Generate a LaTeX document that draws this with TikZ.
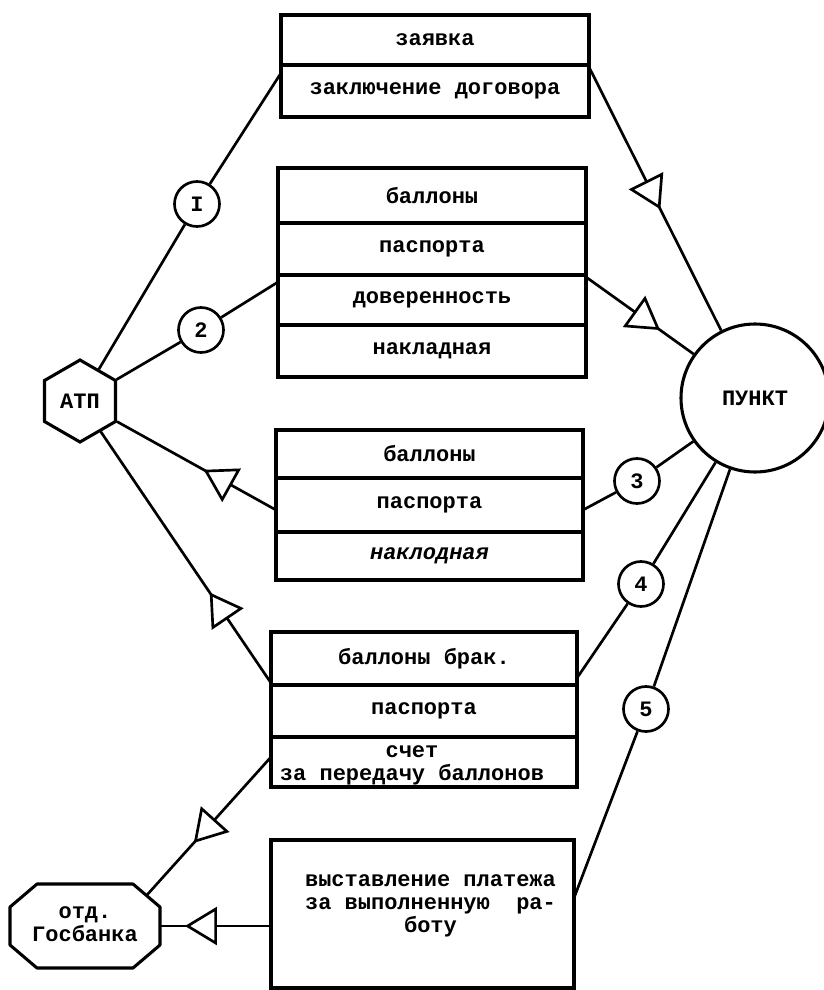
\documentclass[tikz,border=0pt]{standalone}
\usepackage{fontspec}
\setmainfont{Liberation Mono}
\usetikzlibrary{shapes.geometric,arrows.meta,decorations.markings,calc}
\begin{document}
\begin{tikzpicture}[x=0.75pt,y=-0.75pt,
  txt/.style={font=\bfseries\fontsize{16.5}{17.25}\selectfont},
  cell/.style={txt, draw, line width=2.5pt, inner sep=0pt, outer sep=0pt, minimum height=#1},
  numc/.style={txt, circle, draw, line width=2pt, minimum size=33.75pt, inner sep=0pt},
  wire/.style={line width=2pt, line join=round},
  flow/.style={wire, postaction={decorate},
    decoration={markings, mark=at position #1 with {\arrow{Triangle[length=24pt,width=28.5pt,fill=white]}}}},
]
\useasboundingbox (0,0) rectangle (824,990);

% parties
\node[txt, regular polygon, regular polygon sides=6, shape border rotate=30, draw,
      line width=2.3pt, minimum size=61.5pt, inner sep=0pt] (atp) at (80,401) {АТП};
\node[txt, circle, draw, line width=2.3pt, minimum size=111pt, inner sep=0pt] (punkt) at (755,398) {ПУНКТ};
\node[txt, minimum width=112.5pt, minimum height=63pt, inner sep=0pt, outer sep=0pt] (bank) at (85,926)
  {{\fontsize{16.5}{15}\selectfont\begin{tabular}{@{}c@{}}отд.\\Госбанка\end{tabular}}};
% octagon outline of the bank
\coordinate (o1) at ([shift={(27,0)}]bank.north west);
\coordinate (o2) at ([shift={(-27,0)}]bank.north east);
\coordinate (o3) at ([shift={(0,23)}]bank.north east);
\coordinate (o4) at ([shift={(0,-23)}]bank.south east);
\coordinate (o5) at ([shift={(-27,0)}]bank.south east);
\coordinate (o6) at ([shift={(27,0)}]bank.south west);
\coordinate (o7) at ([shift={(0,-23)}]bank.south west);
\coordinate (o8) at ([shift={(0,23)}]bank.north west);
\draw[line width=2.3pt, line join=round] (o1) -- (o2) -- (o3) -- (o4) -- (o5) -- (o6) -- (o7) -- (o8) -- cycle;
\coordinate (bankne) at ($(o2)!0.5!(o3)$);

% document blocks
\node[cell=37.5pt, minimum width=231pt, anchor=north west] (b1a) at (281,15) {заявка};
\node[cell=39pt, minimum width=231pt, anchor=north] (b1b) at (b1a.south) {заключение договора};

\node[cell=41.25pt, minimum width=231pt, anchor=north west] (b2a) at (278,168) {баллоны};
\node[cell=39pt, minimum width=231pt, anchor=north] (b2b) at (b2a.south) {паспорта};
\node[cell=37.5pt, minimum width=231pt, anchor=north] (b2c) at (b2b.south) {доверенность};
\node[cell=39pt, minimum width=231pt, anchor=north] (b2d) at (b2c.south) {накладная};

\node[cell=36pt, minimum width=230.25pt, anchor=north west] (b3a) at (276,430) {баллоны};
\node[cell=40.5pt, minimum width=230.25pt, anchor=north] (b3b) at (b3a.south) {паспорта};
\node[cell=36pt, minimum width=230.25pt, anchor=north] (b3c) at (b3b.south) {\itshape наклодная};

\node[cell=39.75pt, minimum width=229.5pt, anchor=north west] (b4a) at (271,632) {баллоны брак.};
\node[cell=39pt, minimum width=229.5pt, anchor=north] (b4b) at (b4a.south) {паспорта};
\node[cell=37.5pt, minimum width=229.5pt, anchor=north] (b4c) at (b4b.south)
  {{\fontsize{16.5}{15.75}\selectfont\begin{tabular}{@{}c@{}}\rule{0pt}{15.5pt}счет\\за передачу баллонов\end{tabular}}\hspace*{18pt}};

\node[cell=111pt, minimum width=227.25pt, anchor=north west] (b5) at (271,840)
  {\hspace*{12pt}\begin{tabular}{@{}c@{}}выставление платежа\\за~выполненную~~ра-\\боту\\[13pt]\end{tabular}};

% numbered stages
\node[numc] (c1) at (197,204) {I};
\node[numc] (c2) at (201,330) {2};
\node[numc] (c3) at (637,481) {3};
\node[numc] (c4) at (641,584) {4};
\node[numc] (c5) at (646,709) {5};

% flows
\draw[wire] (atp) -- (c1) -- ([shift={(0,8)}]b1b.north west);
\draw[flow=0.54] ([shift={(0,2)}]b1b.north east) -- (punkt);

\draw[wire] (atp) -- (c2) -- ([shift={(0,7)}]b2c.north west);
\draw[flow=0.69] ([shift={(0,2)}]b2c.north east) -- (punkt);

\draw[wire] (punkt) -- (c3) -- ([shift={(0,5)}]b3b.east);
\draw[flow=0.455] ([shift={(0,5)}]b3b.west) -- (atp);

\draw[wire] (punkt) -- (c4) -- ([shift={(0,-7)}]b4a.south east);
\draw[flow=0.36] ([shift={(0,-2)}]b4a.south west) -- (atp);

\draw[wire] (punkt) -- (c5) -- ([shift={(0,-16)}]b5.east);

\draw[flow=0.62] ([shift={(0,-5)}]b4c.west) -- (bankne);
\draw[flow=0.775] (b5.west |- bank.east) -- (bank.east);
\end{tikzpicture}
\end{document}
